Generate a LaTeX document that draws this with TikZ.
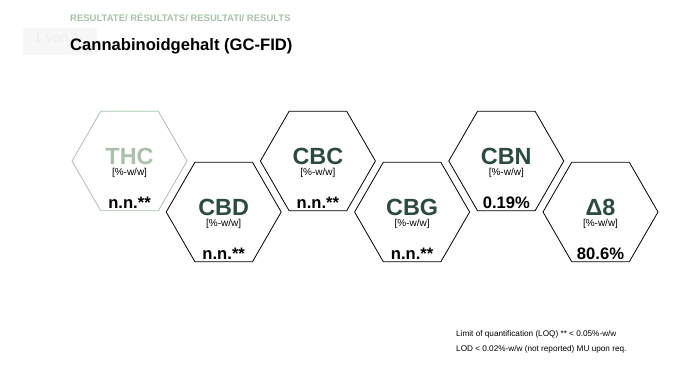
\documentclass[tikz,border=0pt]{standalone}
\usepackage{fontspec}
\setmainfont{Liberation Sans}
\usetikzlibrary{shapes.geometric,positioning}

\definecolor{hexdark}{HTML}{2B4A42}
\definecolor{hexlight}{HTML}{A9C1A9}
\definecolor{ghost}{HTML}{EEEEEE}

\tikzset{
	hexcell/.style={draw=#1, line width=0.8pt, regular polygon, regular polygon sides=6,
		minimum size=115pt, inner sep=0pt},
	hexname/.style={text=#1, font=\fontsize{23.4}{26}\selectfont\bfseries, inner sep=0pt, anchor=base},
	hexunit/.style={font=\fontsize{10}{12}\selectfont, inner sep=0pt, anchor=base},
	hexval/.style={font=\fontsize{16.6}{19}\selectfont\bfseries, inner sep=0pt, anchor=base},
	note/.style={font=\fontsize{8.2}{10}\selectfont, inner sep=0pt, anchor=base west}
}

\begin{document}
\begin{tikzpicture}[x=1pt, y=-1pt]

		\useasboundingbox (0,0) rectangle (690,387);

		% faint page counter behind the title
		\fill[black!3] (23,28) rectangle (97,55);
		\node[anchor=base west, inner sep=0pt, text=ghost, font=\fontsize{14}{16}\selectfont] (pagecount) at (34,43) {1 von 1};

		% header and title
		\node[anchor=base west, inner sep=0pt, text=hexlight, font=\fontsize{9.5}{11}\selectfont\bfseries] (header) at (70,22)
			{RESULTATE/ RÉSULTATS/ RESULTATI/ RESULTS};
		\node[anchor=base west, inner sep=0pt, font=\fontsize{16.6}{19}\selectfont\bfseries] (title) at (70,51)
			{Cannabinoidgehalt (GC-FID)};

		% hexagons: id / name / value / center / line colour / name colour
		\foreach \id/\nm/\val/\cx/\cy/\col/\tcol in {
			thc/THC/n.n.**/129.5/161/hexlight/hexlight,
			cbd/CBD/n.n.**/223.7/212/black/hexdark,
			cbc/CBC/n.n.**/317.9/161/black/hexdark,
			cbg/CBG/n.n.**/412.1/212/black/hexdark,
			cbn/CBN/0.19\%/506.3/161/black/hexdark,
			delta/Δ8/80.6\%/600.5/212/black/hexdark}{
			\node[hexcell=\col] (hex-\id) at (\cx,\cy) {};
			\node[hexname=\tcol] (name-\id) at (\cx,\cy+4) {\nm};
			\node[hexunit] (unit-\id) at (\cx,\cy+15) {[\%-w/w]};
			\node[hexval] (val-\id) at (\cx,\cy+47.3) {\val};
		}

		% footnote
		\node[note] (loq) at (456,336.7) {Limit of quantification (LOQ) ** < 0.05\%-w/w};
		\node[note] (lod) at (456,351) {LOD < 0.02\%-w/w (not reported) MU upon req.};

	\end{tikzpicture}
\end{document}
